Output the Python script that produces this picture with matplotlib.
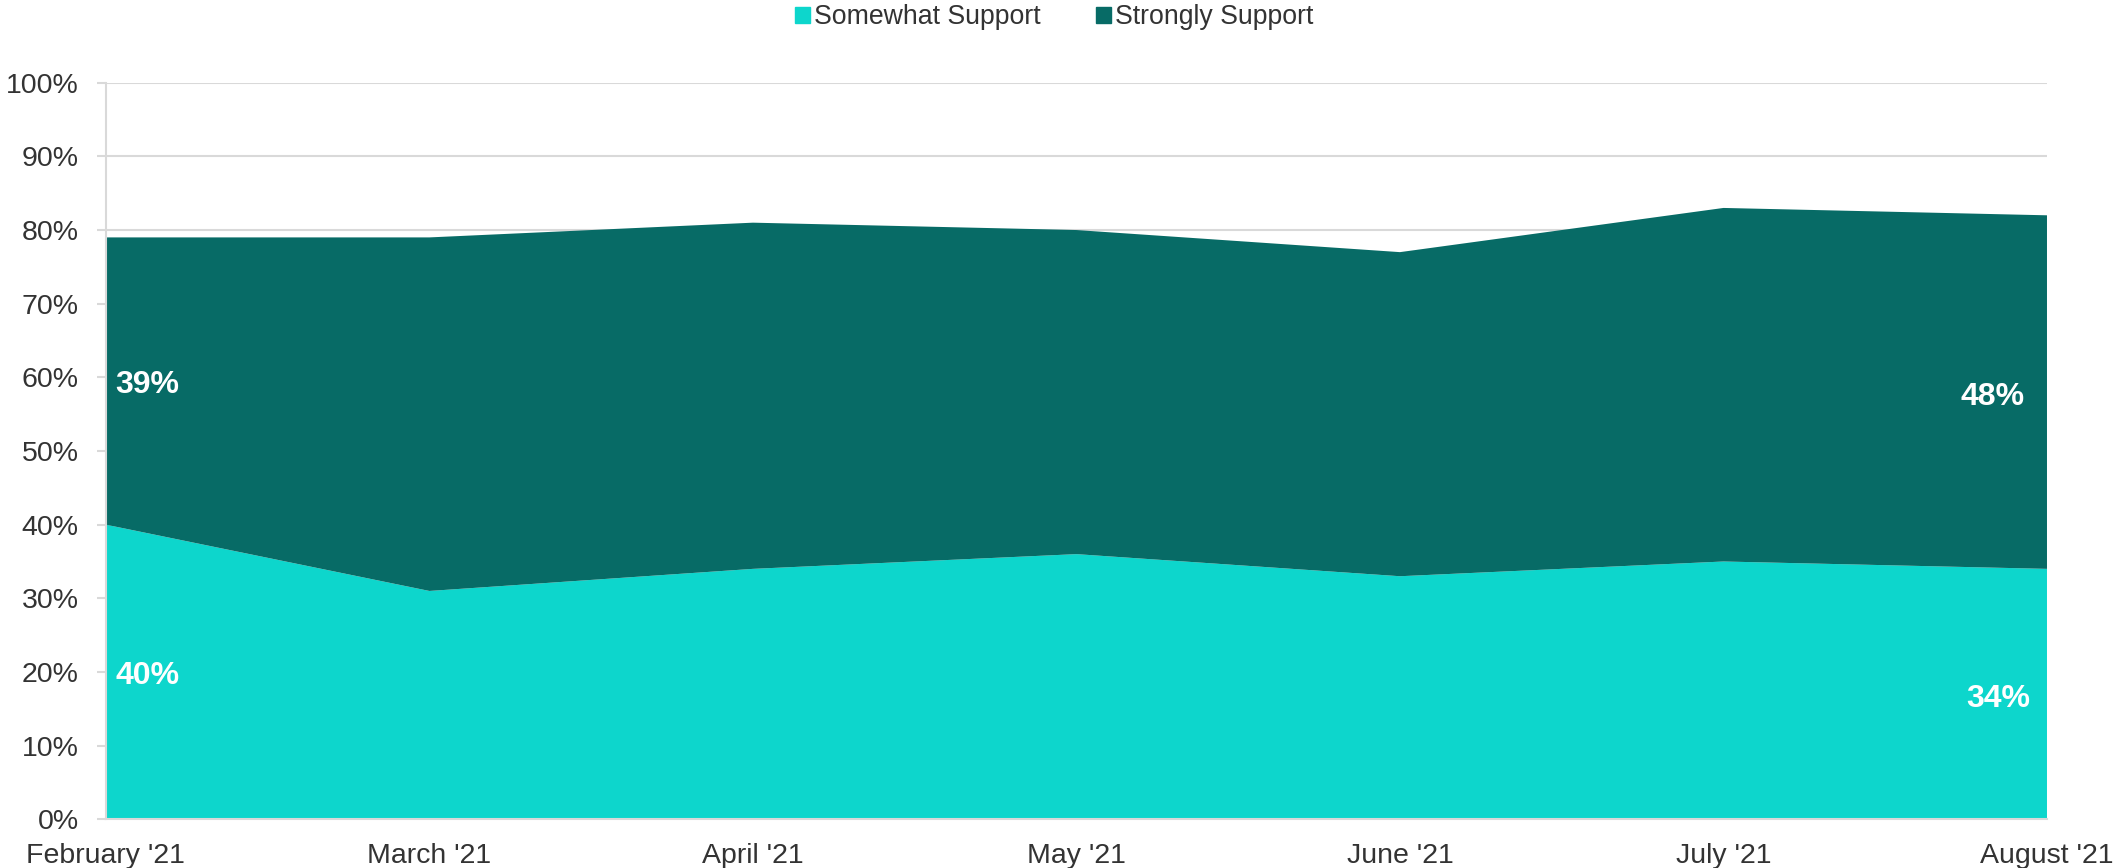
import numpy as np
import matplotlib.pyplot as plt
from matplotlib.patches import Patch

plt.rcParams['font.family'] = ['Liberation Sans', 'DejaVu Sans']

months = ["February '21", "March '21", "April '21", "May '21", "June '21", "July '21", "August '21"]
somewhat = [40, 31, 34, 36, 33, 35, 34]
strongly = [39, 48, 47, 44, 44, 48, 48]

c_some = '#0dd6cc'
c_strong = '#076b66'
txt = '#333333'
grid = '#d9d9d9'

fig = plt.figure(figsize=(21.14, 8.68), dpi=100)
ax = fig.add_axes([0.0501, 0.0561, 0.9182, 0.8486])

x = np.arange(len(months))
ax.stackplot(x, somewhat, strongly, colors=[c_some, c_strong], linewidth=0, zorder=2)

ax.set_xlim(0, len(months) - 1)
ax.set_ylim(0, 100)
ax.set_yticks(range(0, 101, 10))
ax.set_yticklabels([f'{v}%' for v in range(0, 101, 10)])
ax.set_xticks(x)
ax.set_xticklabels(months)

ax.grid(axis='y', color=grid, linewidth=1.5, zorder=0)
ax.set_axisbelow(True)
for s in ['top', 'right']:
    ax.spines[s].set_visible(False)
ax.spines['left'].set_color(grid)
ax.spines['left'].set_linewidth(1.5)
ax.spines['bottom'].set_color(grid)
ax.spines['bottom'].set_linewidth(1.5)
ax.tick_params(axis='y', colors=grid, labelcolor=txt, labelsize=20.5, length=6.5, width=1.5, pad=13)
ax.tick_params(axis='x', labelcolor=txt, labelsize=20.5, length=0, pad=17)

# data labels at first and last month
lab = dict(color='white', fontsize=23, fontweight='bold', va='center', zorder=3)
ax.text(0.03, somewhat[0] / 2 - 0.6, f'{somewhat[0]}%', ha='left', **lab)
ax.text(0.03, somewhat[0] + strongly[0] / 2 - 0.6, f'{strongly[0]}%', ha='left', **lab)
ax.text(x[-1] - 0.053, somewhat[-1] / 2 - 0.6, f'{somewhat[-1]}%', ha='right', **lab)
ax.text(x[-1] - 0.068, somewhat[-1] + strongly[-1] / 2 - 0.6, f'{strongly[-1]}%', ha='right', **lab)

handles = [Patch(color=c_some, label='Somewhat Support'),
           Patch(color=c_strong, label='Strongly Support')]
fig.legend(handles=handles, loc='center', bbox_to_anchor=(1054 / 2114, 1 - 17 / 868),
           ncol=2, frameon=False, fontsize=19.2, labelcolor=txt,
           handlelength=0.55, handleheight=0.55, handletextpad=0.15, columnspacing=2.1)

fig.savefig('out.png', dpi=100)
